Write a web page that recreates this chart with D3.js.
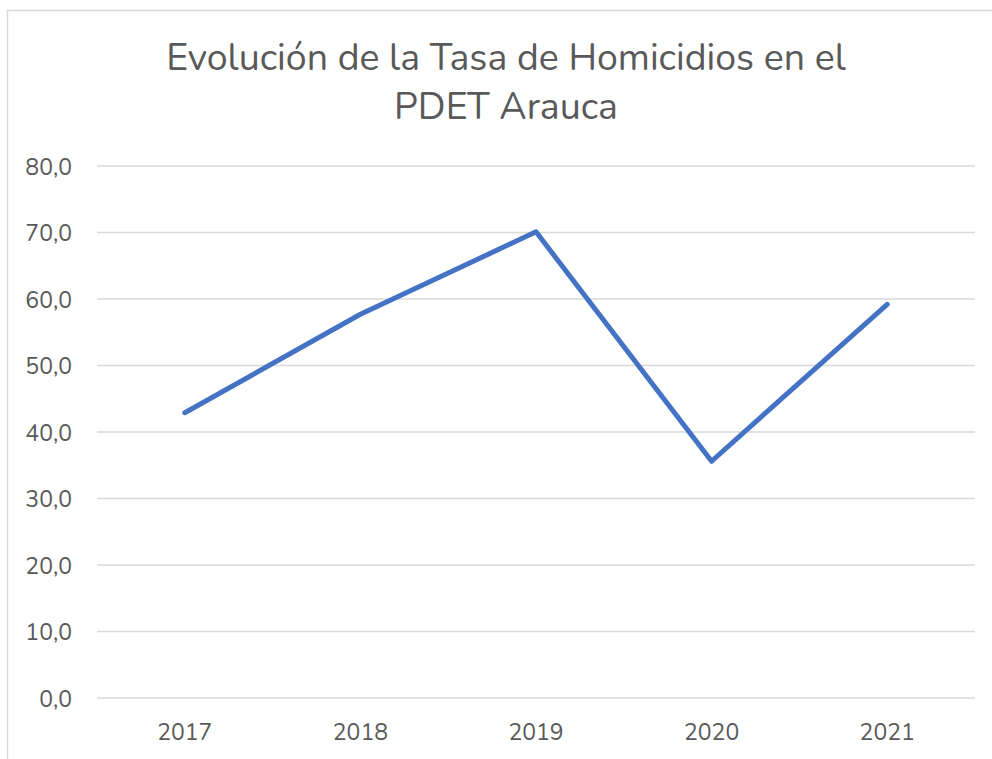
<!DOCTYPE html>
<html><head><meta charset="utf-8">
<script src="https://cdn.jsdelivr.net/npm/d3@7"></script>
<style>body{margin:0;background:#fff}svg{display:block}text{font-family:"Nunito","Open Sans",sans-serif}</style>
</head><body>
<script>
const years = ["2017","2018","2019","2020","2021"];
const rates = [42.9, 57.7, 70.1, 35.6, 59.2];
const yTicks = [0,10,20,30,40,50,60,70,80];
const titleLines = ["Evolución de la Tasa de Homicidios en el","PDET Arauca"];

const W=992,H=759;
const svg=d3.select("body").append("svg").attr("width",W).attr("height",H);
svg.append("rect").attr("x",7.5).attr("y",10.5).attr("width",1100).attr("height",1000)
  .attr("fill","#fff").attr("stroke","#d9d9d9").attr("stroke-width",1.5);

const x=d3.scaleBand().domain(years).range([97,975]);
const y=d3.scaleLinear().domain([0,80]).range([698,166]);

const grid=svg.append("g");
grid.selectAll("line").data(yTicks).join("line")
  .attr("x1",97).attr("x2",975).attr("y1",d=>y(d)).attr("y2",d=>y(d))
  .attr("stroke","#d9d9d9").attr("stroke-width",1.5);

const yAxis=svg.append("g").attr("transform","translate(72,0)")
  .call(d3.axisLeft(y).tickValues(yTicks).tickSize(0).tickPadding(0).tickFormat(d=>d3.format(".1f")(d).replace(".",",")));
yAxis.select(".domain").remove();
yAxis.selectAll("text").attr("font-size",23).attr("fill","#595959").attr("dy","0.36em");

const xAxis=svg.append("g").attr("transform","translate(0,698)")
  .call(d3.axisBottom(x).tickSize(0).tickPadding(0));
xAxis.select(".domain").remove();
xAxis.selectAll("text").attr("font-size",23).attr("fill","#595959").attr("dy","0").attr("y",42);

const line=d3.line().x((d,i)=>x(years[i])+x.bandwidth()/2).y(d=>y(d));
svg.append("path").datum(rates).attr("d",line).attr("fill","none")
  .attr("stroke","#4472C4").attr("stroke-width",5).attr("stroke-linecap","round").attr("stroke-linejoin","round");

svg.append("g").selectAll("text").data(titleLines).join("text")
  .attr("x",506).attr("y",(d,i)=>70+i*49).attr("text-anchor","middle")
  .attr("font-size",37.5).attr("fill","#595959").text(d=>d);
</script>
</body></html>
